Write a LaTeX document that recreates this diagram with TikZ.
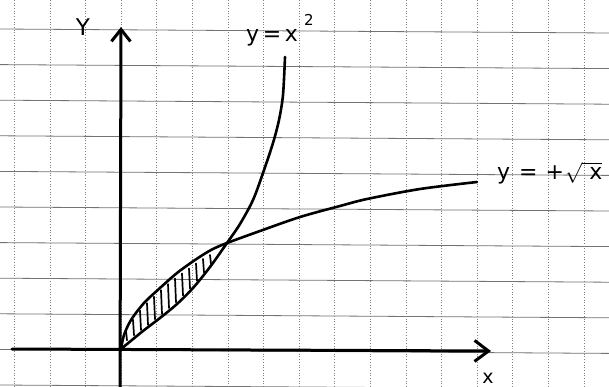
\documentclass[tikz,border=0pt]{standalone}
\usepackage{fontspec}
\setmainfont{DejaVu Sans}
\usetikzlibrary{arrows.meta}
\begin{document}
\begin{tikzpicture}[x=1pt,y=-1pt,
  gridh/.style={draw=black!55, line width=0.8pt},
  gridv/.style={draw=black!50, line width=0.7pt, dotted},
  axis/.style={line width=3pt, line cap=round},
  curve/.style={line width=2.6pt, line cap=round, line join=round},
  hatchline/.style={line width=1.7pt, line cap=round},
  lbl/.style={inner sep=0pt, text=black}]
\useasboundingbox (0,0) rectangle (609,387);
\fill[white] (0,0) rectangle (609,387);
% grid paper
\foreach \k in {0,...,10} \draw[gridh] (0,{29+35.6*\k}) -- (609,{33+35.6*\k});
\foreach \k in {0,...,16} \draw[gridv] ({14.3+35.6*\k},0) -- ({14.3+35.6*\k},387);
% axes
\coordinate (O) at (121,349);
\coordinate (ytop) at (121,27);
\coordinate (ybot) at (120,390);
\coordinate (xleft) at (12,349);
\coordinate (xright) at (491,351);
\draw[axis, -{Straight Barb[length=12pt,width=19pt,line width=3pt]}] (ybot) -- (ytop);
\draw[axis, -{Straight Barb[length=14pt,width=21pt,line width=3pt]}] (xleft) -- (xright);
% intersection point
\coordinate (P) at (227,243);
% y = x^2
\draw[curve] plot[smooth] coordinates {(121,349) (143,331) (160,318) (177,304) (193,288) (210,267) (227,243) (240,224) (253,200) (263,173) (273,143) (279,120) (283,95) (285,57)};
% y = sqrt x
\draw[curve] plot[smooth] coordinates {(121,349) (124,335) (131,320) (144,303) (160,288) (177,273) (195,260) (211,250) (227,243) (260,231) (300,217) (340,206) (367,199) (420,189) (477,182)};
% hatching
\foreach \hx/\hup/\hlow in {127/326/341.8, 134/314.8/336.7, 141/305.6/331.5, 148/298.3/326.2,
  155/291.7/320.8, 162/285.2/315.4, 169/279.1/309.6, 176/273.5/303.8, 183/268.5/297,
  190/263.5/290, 197/258.5/282.3, 204/254/274.1, 211/250/265.4} {
  \draw[hatchline] (\hx-1,\hup+5) -- (\hx,\hlow-1.5);
}
% labels
\node[lbl, font=\fontsize{23}{23}\selectfont] (ylabel) at (83,27) {Y};
\node[lbl, anchor=base west, font=\fontsize{22}{22}\selectfont] (parlabel) at (246,42)
  {y\,=\,x\hspace{6pt}\raisebox{16pt}{\fontsize{15}{15}\selectfont 2}};
\node[lbl, anchor=base west, font=\fontsize{22}{22}\selectfont] (sqrtlabel) at (497,180)
  {y\hspace{9pt}=\hspace{8pt}+\hspace{1pt}$\sqrt{\hspace{7pt}\mbox{x}}$};
\node[lbl, font=\fontsize{19}{19}\selectfont] (xlabel) at (488,378) {x};
\end{tikzpicture}
\end{document}
